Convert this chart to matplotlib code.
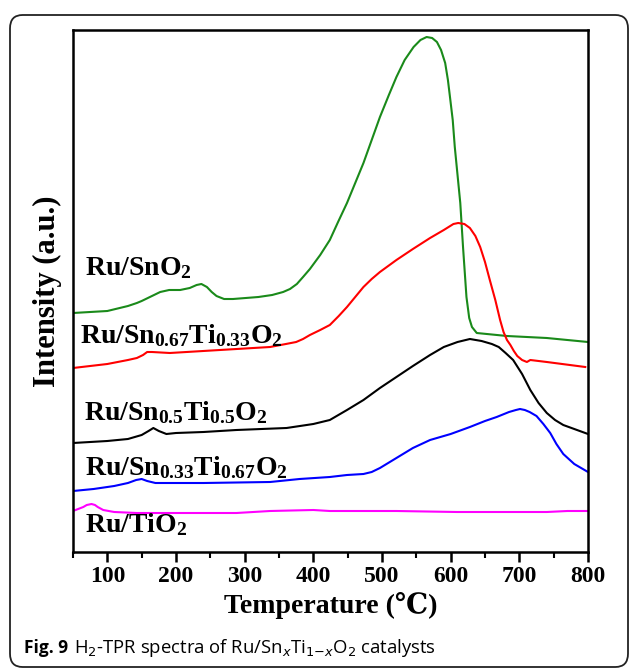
import matplotlib
matplotlib.use("Agg")
import matplotlib.pyplot as plt
from matplotlib.patches import FancyBboxPatch
import numpy as np

# ---- data (intensity in arbitrary units) ----
t_sno2 = [50, 100, 130, 143, 150, 165, 177, 190, 206, 220, 230, 237, 245, 252, 259, 270, 283, 320,
          340, 356, 366, 376, 385, 395, 410, 424, 436, 449, 461, 473, 485, 497,
          510, 521, 533, 546, 556, 565, 573, 580, 586, 592, 596, 599, 603, 606, 610, 614, 618, 623,
          627, 631, 638, 682, 740, 800]
i_sno2 = [239, 241, 246, 249, 251, 256, 260, 262, 262, 264, 267, 268, 265, 260, 256, 253, 253, 255,
          257, 260, 263, 268, 275, 283, 297, 312, 330, 349, 369, 389, 412, 435,
          457, 475, 492, 505, 512, 515, 514, 510, 502, 489, 472, 455, 432, 405, 377, 349, 305, 255,
          234, 225, 219, 216, 214, 210]

t_067 = [50, 100, 130, 143, 152, 158, 165, 191, 264, 337, 360, 375, 385, 395, 410, 424, 437, 449, 461,
         473, 485, 497, 521, 545, 570, 590, 604, 611, 620, 628, 636, 643, 650, 657, 665, 672, 677, 682,
         687, 692, 697, 704, 711, 716, 740, 796]
i_067 = [184, 188, 192, 194, 197, 200, 200, 199, 202, 205, 208, 210, 213, 217, 222, 227, 236, 245, 255,
         265, 273, 280, 292, 303, 314, 322, 328, 329, 328, 324, 316, 305, 290, 272, 252, 232, 220, 212,
         207, 201, 196, 192, 190, 192, 190, 185]

t_05 = [50, 100, 130, 150, 160, 167, 175, 186, 200, 240, 288, 361, 400, 424, 449, 473, 497, 521, 545,
        570, 590, 610, 628, 645, 660, 670, 680, 691, 704, 716, 728, 740, 752, 764, 780, 800]
i_05 = [109, 111, 113, 117, 121, 124, 121, 118, 119, 120, 122, 124, 128, 132, 142, 152, 164, 175, 186,
        197, 205, 210, 213, 211, 208, 205, 199, 192, 178, 162, 149, 139, 132, 127, 123, 118]

t_033 = [50, 80, 110, 130, 142, 150, 158, 170, 181, 240, 337, 380, 424, 449, 473, 485, 497, 509, 521,
         545, 570, 600, 628, 650, 667, 685, 695, 701, 708, 715, 725, 735, 745, 754, 764, 780, 800]
i_033 = [61, 63, 66, 69, 72, 73, 71, 69, 69, 69, 70, 73, 75, 77, 78, 80, 84, 89, 94,
         104, 112, 118, 125, 131, 135, 140, 142, 143, 142, 140, 136, 128, 119, 108, 98, 88, 80]

t_tio2 = [50, 65, 70, 77, 82, 86, 94, 110, 143, 200, 288, 337, 400, 424, 521, 609, 700, 740, 770, 800]
i_tio2 = [41, 45, 47, 48, 47, 45, 42, 40, 39, 39, 39, 41, 42, 41, 41, 40, 40, 40, 41, 41]

series = [
    (t_sno2, i_sno2, "#1a8a1a"),
    (t_067, i_067, "#ff0000"),
    (t_05, i_05, "#000000"),
    (t_033, i_033, "#0000ff"),
    (t_tio2, i_tio2, "#ff00ff"),
]

labels = [r"Ru/SnO$_2$",
          r"Ru/Sn$_{0.67}$Ti$_{0.33}$O$_2$",
          r"Ru/Sn$_{0.5}$Ti$_{0.5}$O$_2$",
          r"Ru/Sn$_{0.33}$Ti$_{0.67}$O$_2$",
          r"Ru/TiO$_2$"]
label_xy = [(68, 284), (60, 216), (66, 139), (68, 84), (68, 27)]

xticks = [100, 200, 300, 400, 500, 600, 700, 800]

plt.rcParams['mathtext.fontset'] = 'custom'
plt.rcParams['mathtext.rm'] = 'Liberation Serif:bold'
plt.rcParams['mathtext.it'] = 'Liberation Serif:bold'
plt.rcParams['mathtext.bf'] = 'Liberation Serif:bold'

W, H = 630, 668
fig = plt.figure(figsize=(W / 100, H / 100), dpi=100)

# rounded outer frame
box = FancyBboxPatch((10 / W, 1 / H), (628 - 10) / W, (653 - 1) / H,
                     boxstyle="round,pad=0,rounding_size=0.02",
                     transform=fig.transFigure, fill=False, edgecolor="#222222",
                     linewidth=1.3, clip_on=False)
fig.patches.append(box)

ax = fig.add_axes([73 / W, 1 - 552 / H, (588 - 73) / W, (552 - 30) / H])

for t, i, c in series:
    ax.plot(t, i, color=c, linewidth=1.5)

for lab, (x, y) in zip(labels, label_xy):
    ax.text(x, y, lab, fontsize=20, fontfamily='Liberation Serif', fontweight='bold',
            ha='left', va='center')

ax.set_xlim(50, 800)
ax.set_ylim(0, 522)
ax.set_yticks([])
ax.set_xticks(xticks)
ax.set_xticks(np.arange(50, 801, 100), minor=True)
ax.tick_params(axis='x', which='major', direction='out', length=7, width=1.8,
               labelsize=17, pad=3)
ax.tick_params(axis='x', which='minor', direction='out', length=4, width=1.5)
for lab in ax.get_xticklabels():
    lab.set_fontfamily('Liberation Serif')
    lab.set_fontweight('bold')
for sp in ax.spines.values():
    sp.set_linewidth(1.8)

ax.set_xlabel("Temperature (℃)", fontsize=20, fontweight='bold',
              family=['Liberation Serif', 'DejaVu Serif'], labelpad=4)
ax.set_ylabel("Intensity (a.u.)", fontsize=22, fontweight='bold',
              family='Liberation Serif', labelpad=8)

# caption
fig.text(24 / W, 1 - 648 / H, "Fig. 9", fontsize=12.5, fontweight='bold',
         family='Open Sans', va='center', ha='left')
fig.text(74 / W, 1 - 648 / H, r"H$_2$-TPR spectra of Ru/Sn$_x$Ti$_{1\mathsf{-}x}$O$_2$ catalysts",
         fontsize=13.3, family='Open Sans', va='center', ha='left', math_fontfamily='dejavusans')

fig.savefig("out.png", dpi=100)
